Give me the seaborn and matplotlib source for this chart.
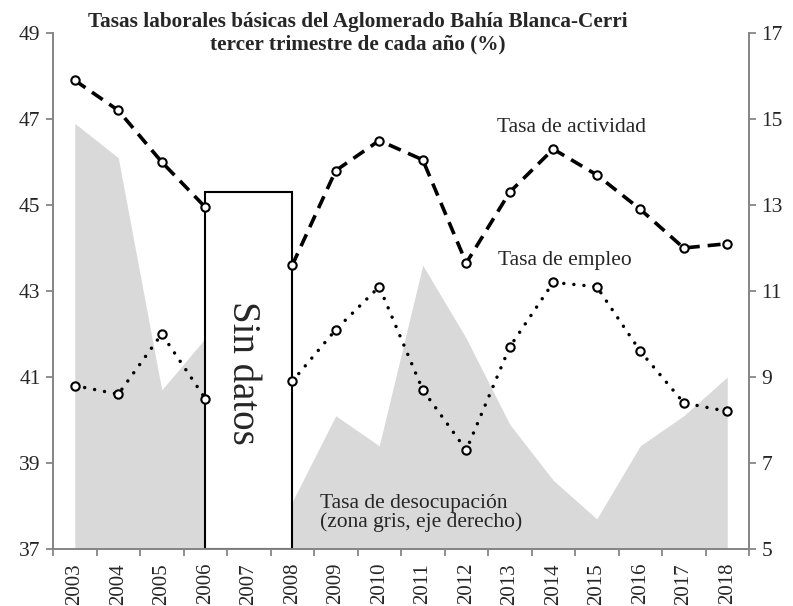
import pandas as pd
import numpy as np
import seaborn as sns
import matplotlib.pyplot as plt

# Tasas del tercer trimestre, Aglomerado Bahia Blanca-Cerri (2007 sin datos)
years = ['2003', '2004', '2005', '2006', '2007', '2008', '2009', '2010',
         '2011', '2012', '2013', '2014', '2015', '2016', '2017', '2018']
actividad = [47.9, 47.2, 46.0, 44.95, np.nan, 43.6, 45.8, 46.5,
             46.05, 43.65, 45.3, 46.3, 45.7, 44.9, 44.0, 44.1]
empleo = [40.8, 40.6, 42.0, 40.5, np.nan, 40.9, 42.1, 43.1,
          40.7, 39.3, 41.7, 43.2, 43.1, 41.6, 40.4, 40.2]
desocupacion = [14.9, 14.1, 8.7, 9.9, np.nan, 6.1, 8.1, 7.4,
                11.6, 9.9, 7.9, 6.6, 5.7, 7.4, 8.1, 9.0]

df = pd.DataFrame({'year': years, 'act': actividad, 'emp': empleo, 'des': desocupacion})
df['pos'] = np.arange(len(df))
df['seg'] = (df['pos'] > 4).astype(int)
df = df.dropna()

sns.set_theme(style='white')
plt.rcParams['font.family'] = ['Liberation Serif', 'DejaVu Serif']

fig = plt.figure(figsize=(7.93, 6.06), dpi=100)
ax = fig.add_axes([53/793, 57/606, 696/793, 516/606])
ax2 = ax.twinx()
ax.set_zorder(ax2.get_zorder() + 1)
ax.patch.set_visible(False)

# zona gris (eje derecho)
for s, g in df.groupby('seg'):
    ax2.fill_between(g['pos'], 5, g['des'], color='#d9d9d9', lw=0)

# recuadro "Sin datos"
i06 = years.index('2006')
i08 = years.index('2008')
ax.add_patch(plt.Rectangle((i06, 37), i08 - i06, 45.3 - 37, facecolor='white',
                           edgecolor='black', lw=1.5, zorder=1))
ax.text((i06 + i08) / 2 - 0.15, 41.1, 'Sin datos', rotation=-90, ha='center', va='center',
        fontsize=28, zorder=2)

mk = dict(marker='o', markersize=6, markerfacecolor='white',
          markeredgecolor='black', markeredgewidth=1.5)
sns.lineplot(data=df, x='pos', y='act', units='seg', estimator=None, ax=ax,
             color='black', lw=2.6, linestyle=(0, (3.6, 2.2)), zorder=3, **mk)
n0 = len(ax.lines)
sns.lineplot(data=df, x='pos', y='emp', units='seg', estimator=None, ax=ax,
             color='black', lw=2.5, linestyle=(0, (0.01, 2.9)), zorder=3, **mk)
for ln in ax.lines[n0:]:
    ln.set_dash_capstyle('round')

ax.set_xlim(-0.5, len(years) - 0.5)
ax.set_ylim(37, 49)
ax2.set_ylim(5, 17)
ax.set_yticks([37, 39, 41, 43, 45, 47, 49])
ax2.set_yticks([5, 7, 9, 11, 13, 15, 17])
ax.set_xticks(range(len(years)))
ax.set_xticklabels(years, rotation=90)
ax.set_xticks(np.arange(-0.5, len(years)), minor=True)
ax.set_xlabel('')
ax.set_ylabel('')
ax2.set_ylabel('')

spine_col = '#868686'
for a in (ax, ax2):
    a.spines['top'].set_visible(False)
    for sp in ('left', 'right', 'bottom'):
        a.spines[sp].set_color(spine_col)
        a.spines[sp].set_linewidth(1.3)
    a.grid(False)
ax.tick_params(axis='y', which='major', direction='out', length=5, color=spine_col,
               width=1.3, labelsize=15.5, left=True, pad=4)
ax2.tick_params(axis='y', which='major', direction='out', length=5, color=spine_col,
                width=1.3, labelsize=15.5, right=True, pad=4)
ax.tick_params(axis='x', which='major', length=0, labelsize=15, pad=10)
ax.tick_params(axis='x', which='minor', direction='out', length=5, color=spine_col,
               width=1.3, bottom=True)

ax.text(11.43, 46.81, 'Tasa de actividad', ha='center', va='center', fontsize=15.5)
ax.text(11.27, 43.72, 'Tasa de empleo', ha='center', va='center', fontsize=15.5)
ax.text(5.64, 37.84, 'Tasa de desocupación\n(zona gris, eje derecho)', ha='left',
        va='center', fontsize=15.5, linespacing=1.0, zorder=2)

fig.text(0.451, 1 - 33/606,
         'Tasas laborales básicas del Aglomerado Bahía Blanca-Cerri\ntercer trimestre de cada año (%)',
         ha='center', va='center', fontsize=15.3, fontweight='bold', linespacing=1.2)

fig.savefig('out.png', dpi=100)
